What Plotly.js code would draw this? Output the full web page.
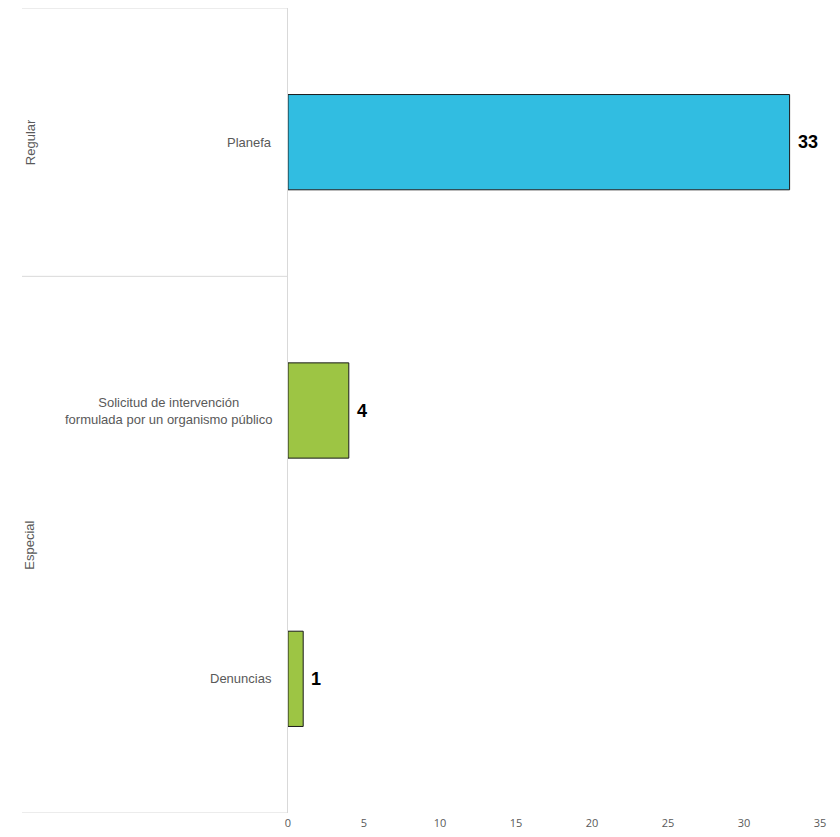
<!DOCTYPE html>
<html>
<head>
<meta charset="utf-8">
<script src="https://cdn.plot.ly/plotly-3.0.1.min.js"></script>
<style>html,body{margin:0;padding:0;background:#fff;}</style>
</head>
<body>
<div id="chart" style="width:840px;height:837px;"></div>
<script>
const categories = ["Planefa", "Solicitud de intervención<br>formulada por un organismo público", "Denuncias"];
const groups = ["Regular", "Especial", "Especial"];
const values = [33, 4, 1];
const barColors = ["#31BDE1", "#9DC544", "#9DC544"];
const xTicks = [0, 5, 10, 15, 20, 25, 30, 35];

const trace = {
  type: "bar",
  orientation: "h",
  x: values,
  y: categories,
  marker: { color: barColors, line: { color: "#1a1a1a", width: 1 } },
  hoverinfo: "x+y",
  showlegend: false
};

const labelFont = { family: "Liberation Sans, Arial, sans-serif", size: 13, color: "#595959" };
const shapes = [];
const annotations = [];
const groupNames = [];
groups.forEach(g => { if (!groupNames.includes(g)) groupNames.push(g); });
let idx = 0;
shapes.push({ type: "line", xref: "paper", yref: "y", x0: -0.5, x1: 0, y0: -0.5, y1: -0.5, line: { color: "#d9d9d9", width: 1 } });
groupNames.forEach(g => {
  const count = groups.filter(v => v === g).length;
  const start = idx - 0.5, end = idx + count - 0.5;
  shapes.push({ type: "line", xref: "paper", yref: "y", x0: -0.5, x1: 0, y0: end, y1: end, line: { color: "#d9d9d9", width: 1 } });
  annotations.push({ xref: "paper", yref: "y", x: -0.485, y: (start + end) / 2, text: g, showarrow: false, textangle: -90, xanchor: "center", yanchor: "middle", font: labelFont });
  idx += count;
});
// category labels (centered multi-line)
categories.forEach((c, i) => {
  annotations.push({ xref: "paper", yref: "y", x: 0, y: c, text: c, showarrow: false, xanchor: "right", yanchor: "middle", align: "center", xshift: -14, font: labelFont });
});
// value labels
values.forEach((v, i) => {
  annotations.push({ xref: "x", yref: "y", x: v, y: categories[i], text: String(v), showarrow: false, xanchor: "left", yanchor: "middle", xshift: 6, font: { family: "Liberation Sans, Arial, sans-serif", size: 18, color: "#000000", weight: "bold" } });
});

const layout = {
  width: 840, height: 837,
  margin: { l: 288, r: 20, t: 8, b: 24, pad: 0 },
  paper_bgcolor: "#ffffff", plot_bgcolor: "#ffffff",
  bargap: 0.645,
  xaxis: {
    range: [0, 35], tickvals: xTicks, ticktext: xTicks.map(String),
    showgrid: false, zeroline: false, showline: false,
    tickfont: { family: "Open Sans, Liberation Sans, sans-serif", size: 11, color: "#595959" },
    ticks: "", ticklabelstandoff: 2, fixedrange: true
  },
  yaxis: {
    type: "category", categoryorder: "array", categoryarray: categories,
    range: [2.5, -0.5],
    showgrid: false, zeroline: false, showline: true, linecolor: "#d9d9d9", linewidth: 1,
    ticks: "", showticklabels: false,
    fixedrange: true
  },
  shapes: shapes,
  annotations: annotations
};

Plotly.newPlot("chart", [trace], layout, { displayModeBar: false, staticPlot: true });
</script>
</body>
</html>
